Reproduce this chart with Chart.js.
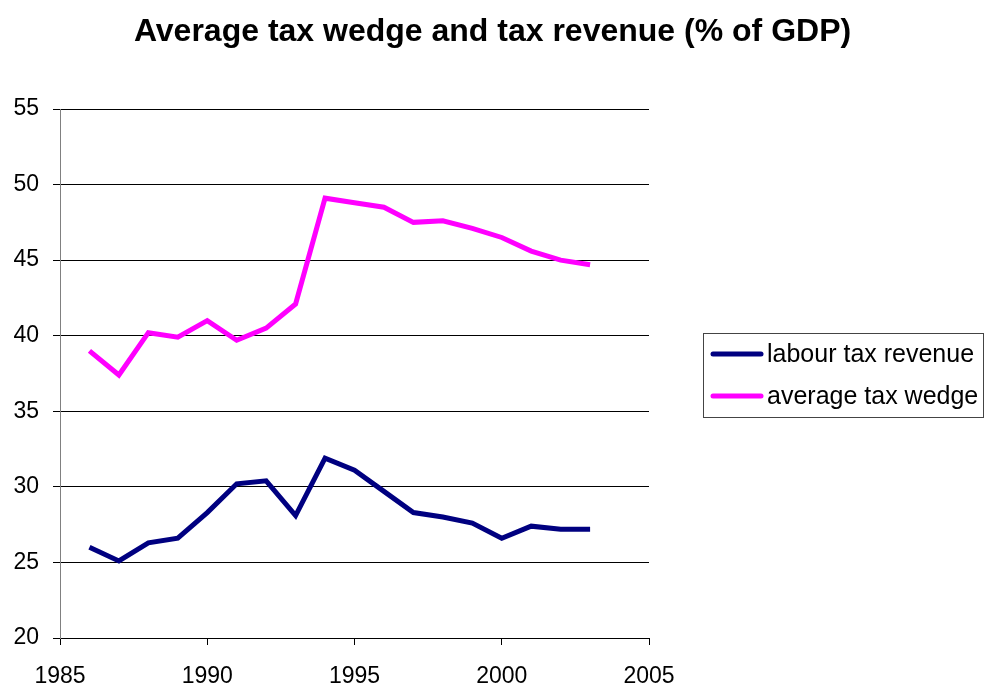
<!DOCTYPE html>
<html>
<head>
<meta charset="utf-8">
<title>Average tax wedge and tax revenue</title>
<script src="https://cdn.jsdelivr.net/npm/chart.js@4"></script>
<style>
  html, body { margin: 0; padding: 0; background: #fff; }
  canvas { display: block; }
</style>
</head>
<body>
<canvas id="taxChart" width="985" height="688"></canvas>
<script>
const years = [1986, 1987, 1988, 1989, 1990, 1991, 1992, 1993, 1994, 1995, 1996, 1997, 1998, 1999, 2000, 2001, 2002, 2003];
const labourTaxRevenue = [26.0, 25.1, 26.3, 26.6, 28.3, 30.2, 30.4, 28.1, 31.9, 31.1, 29.7, 28.3, 28.0, 27.6, 26.6, 27.4, 27.2, 27.2];
const averageTaxWedge = [39.0, 37.4, 40.2, 39.9, 41.0, 39.7, 40.5, 42.1, 49.1, 48.8, 48.5, 47.5, 47.6, 47.1, 46.5, 45.6, 45.0, 44.7];
const xTicks = [1985, 1990, 1995, 2000, 2005];
const yTicks = [20, 25, 30, 35, 40, 45, 50, 55];

const FONT = '"Liberation Sans", Arial, sans-serif';
const TITLE = 'Average tax wedge and tax revenue (% of GDP)';

// title centred on the whole canvas, not just the plot
const pageTitle = {
  id: 'pageTitle',
  afterDraw(chart) {
    const c = chart.ctx;
    c.save();
    c.font = 'bold 32px ' + FONT;
    c.fillStyle = '#000';
    c.textAlign = 'center';
    c.textBaseline = 'alphabetic';
    c.fillText(TITLE, chart.width / 2, 41);
    c.restore();
  }
};

// boxed legend on the right, drawn by hand
const boxLegend = {
  id: 'boxLegend',
  afterDraw(chart) {
    const c = chart.ctx;
    c.save();
    c.strokeStyle = '#444';
    c.lineWidth = 1;
    c.strokeRect(703.5, 333.5, 280, 84);
    c.font = '25px ' + FONT;
    c.textBaseline = 'middle';
    c.fillStyle = '#000';
    chart.data.datasets.forEach((ds, i) => {
      const y = 354 + i * 42;
      c.strokeStyle = ds.borderColor;
      c.lineWidth = 5;
      c.lineCap = 'round';
      c.beginPath();
      c.moveTo(713, y);
      c.lineTo(761, y);
      c.stroke();
      c.fillText(ds.label, 767, y + 1);
    });
    c.restore();
  }
};

new Chart(document.getElementById('taxChart'), {
  type: 'line',
  data: {
    datasets: [
      {
        label: 'labour tax revenue',
        data: years.map((yr, i) => ({ x: yr, y: labourTaxRevenue[i] })),
        borderColor: '#000080',
        borderWidth: 5,
        pointRadius: 0,
        tension: 0
      },
      {
        label: 'average tax wedge',
        data: years.map((yr, i) => ({ x: yr, y: averageTaxWedge[i] })),
        borderColor: '#ff00ff',
        borderWidth: 5,
        pointRadius: 0,
        tension: 0
      }
    ]
  },
  options: {
    responsive: false,
    animation: false,
    devicePixelRatio: 1,
    layout: { padding: { left: 0, right: 336, top: 109, bottom: 0 } },
    plugins: {
      legend: { display: false },
      tooltip: { enabled: false },
      title: { display: false }
    },
    scales: {
      x: {
        type: 'linear',
        min: 1985,
        max: 2005,
        afterBuildTicks: s => { s.ticks = xTicks.map(v => ({ value: v })); },
        afterFit: s => { s.height = 50; },
        grid: { drawOnChartArea: false, tickLength: 7, color: '#000' },
        border: { color: '#000' },
        ticks: {
          color: '#000',
          padding: 18,
          maxRotation: 0,
          font: { family: FONT, size: 23 },
          callback: v => String(v)
        }
      },
      y: {
        min: 20,
        max: 55,
        afterBuildTicks: s => { s.ticks = yTicks.map(v => ({ value: v })); },
        afterFit: s => { s.width = 60; },
        grid: { color: '#000', tickLength: 7 },
        border: { color: '#808080' },
        ticks: { color: '#000', padding: 14, font: { family: FONT, size: 23 }, callback: v => String(v) }
      }
    }
  },
  plugins: [pageTitle, boxLegend]
});
</script>
</body>
</html>
